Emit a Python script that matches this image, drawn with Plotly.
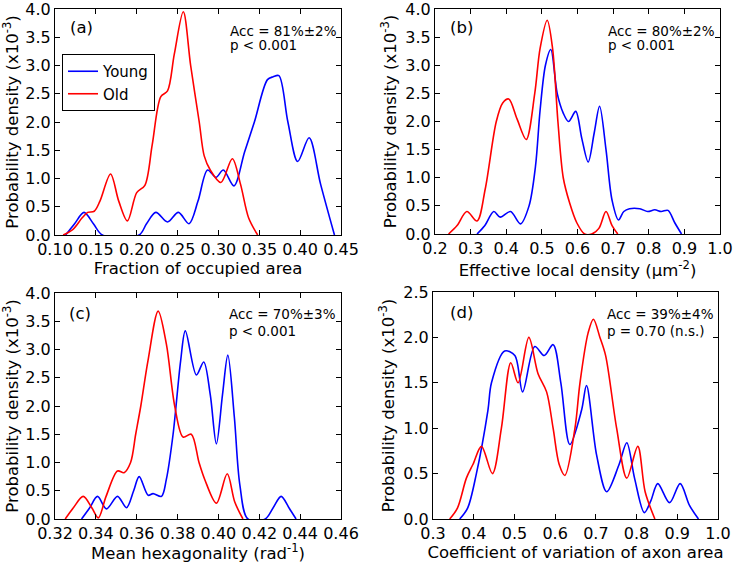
import plotly.graph_objects as go

# ---------------- data ----------------
# (a) Fraction of occupied area
a_young_x = [0.113, 0.124, 0.1355, 0.147, 0.158, 0.203, 0.212, 0.2234, 0.2377, 0.251, 0.264, 0.275,
             0.2867, 0.297, 0.306, 0.319, 0.332, 0.344, 0.36, 0.367, 0.374, 0.385, 0.397, 0.411, 0.425, 0.442]
a_young_y = [0, 0.2, 0.4, 0.2, 0, 0, 0.2, 0.4, 0.23, 0.4, 0.2, 0.6,
             1.15, 1.02, 1.15, 0.87, 1.47, 2.0, 2.75, 2.8, 2.82, 2.0, 1.3, 1.72, 0.9, 0]
a_old_x = [0.11, 0.122, 0.133, 0.14, 0.148, 0.155, 0.168, 0.178, 0.1886, 0.2, 0.21, 0.219, 0.2295,
           0.2377, 0.246, 0.257, 0.266, 0.2765, 0.2826, 0.29, 0.303, 0.317, 0.327, 0.337, 0.348]
a_old_y = [0, 0.1, 0.3, 0.4, 0.42, 0.6, 1.08, 0.6, 0.25, 0.75, 0.88, 1.6, 2.45,
           2.55, 3.2, 3.95, 3.0, 2.0, 1.4, 1.15, 0.93, 1.35, 0.9, 0.3, 0]

# (b) Effective local density
b_young_x = [0.318, 0.34, 0.365, 0.383, 0.412, 0.44, 0.464, 0.482, 0.495, 0.51, 0.525, 0.543, 0.56,
             0.575, 0.595, 0.612, 0.63, 0.647, 0.662, 0.68, 0.697, 0.715, 0.73, 0.746, 0.775, 0.797,
             0.817, 0.835, 0.854, 0.873, 0.892]
b_young_y = [0, 0.15, 0.4, 0.3, 0.4, 0.18, 0.5, 1.2, 2.2, 3.0, 3.28, 2.5, 2.15,
             2.0, 2.18, 1.7, 1.28, 1.8, 2.27, 1.5, 0.6, 0.25, 0.4, 0.45, 0.45, 0.4,
             0.43, 0.4, 0.42, 0.2, 0]
b_old_x = [0.238, 0.262, 0.2894, 0.318, 0.341, 0.372, 0.39, 0.407, 0.43, 0.456, 0.48, 0.495, 0.515,
           0.53, 0.545, 0.56, 0.578, 0.598, 0.62, 0.64, 0.66, 0.68, 0.697, 0.713]
b_old_y = [0, 0.15, 0.4, 0.23, 0.8, 2.0, 2.33, 2.4, 2.05, 1.68, 2.5, 3.3, 3.8,
           3.3, 2.0, 1.0, 0.55, 0.2, 0.0, 0, 0.1, 0.4, 0.15, 0]

# (c) Mean hexagonality
c_young_x = [0.333, 0.337, 0.3408, 0.3452, 0.3506, 0.355, 0.3585, 0.3612, 0.3656, 0.368, 0.3721,
             0.3745, 0.3778, 0.3815, 0.3838, 0.3892, 0.3928, 0.396, 0.399, 0.402, 0.4046, 0.4078,
             0.4105, 0.4144, 0.4229, 0.4268, 0.4307, 0.4345, 0.438]
c_young_y = [0, 0.2, 0.4, 0.18, 0.4, 0.2, 0.5, 0.75, 0.42, 0.45, 0.4,
             0.7, 1.5, 2.8, 3.33, 2.55, 2.78, 2.2, 1.33, 2.2, 2.9, 1.8,
             0.6, 0, 0, 0.2, 0.4, 0.2, 0]
c_old_x = [0.325, 0.329, 0.3338, 0.338, 0.3412, 0.345, 0.3506, 0.3538, 0.357, 0.3595, 0.362, 0.3655,
           0.3705, 0.3745, 0.3786, 0.3827, 0.3867, 0.3905, 0.3933, 0.399, 0.4043, 0.408, 0.412]
c_old_y = [0, 0.2, 0.4, 0.2, 0.02, 0.4, 0.85, 0.82, 1.0, 1.5, 2.0, 2.8,
           3.68, 3.1, 2.0, 1.45, 1.5, 1.0, 0.7, 0.28, 0.8, 0.3, 0]

# (d) Coefficient of variation of axon area
d_young_x = [0.3656, 0.385, 0.4066, 0.435, 0.4436, 0.476, 0.501, 0.52, 0.55, 0.5732, 0.595, 0.614,
             0.636, 0.665, 0.677, 0.702, 0.7266, 0.757, 0.776, 0.795, 0.819, 0.835, 0.852, 0.881,
             0.907, 0.93, 0.952]
d_young_y = [0, 0.12, 0.5, 1.2, 1.5, 1.85, 1.8, 1.4, 1.9, 1.8, 1.92, 1.5,
             0.82, 1.2, 1.47, 0.7, 0.3, 0.6, 0.84, 0.45, 0.07, 0.2, 0.39, 0.18,
             0.39, 0.15, 0]
d_old_x = [0.341, 0.36, 0.382, 0.398, 0.419, 0.446, 0.468, 0.491, 0.509, 0.5354, 0.558, 0.579, 0.595,
           0.61, 0.624, 0.6487, 0.661, 0.681, 0.694, 0.71, 0.724, 0.751, 0.776, 0.803, 0.821, 0.845]
d_old_y = [0, 0.12, 0.45, 0.6, 0.8, 0.5, 1.0, 1.72, 1.5, 2.0, 1.6, 1.4, 1.0,
           0.6, 0.48, 1.0, 1.5, 2.05, 2.2, 2.0, 1.8, 1.0, 0.45, 0.8, 0.3, 0]

panel_labels = ["(a)", "(b)", "(c)", "(d)"]
acc_texts = ["Acc = 81%±2%", "Acc = 80%±2%", "Acc = 70%±3%", "Acc = 39%±4%"]
p_texts = ["p < 0.001", "p < 0.001", "p < 0.001", "p = 0.70 (n.s.)"]
x_titles = ["Fraction of occupied area",
            "Effective local density (μm<sup>-2</sup>)",
            "Mean hexagonality (rad<sup>-1</sup>)",
            "Coefficient of variation of axon area"]
y_title = "Probability density (x10<sup>-3</sup>)"
x_ranges = [[0.10, 0.45], [0.2, 1.0], [0.32, 0.46], [0.3, 1.0]]
x_dticks = [0.05, 0.1, 0.02, 0.1]
x_formats = [".2f", ".1f", ".2f", ".1f"]
y_ranges = [[0, 4.0], [0, 4.0], [0, 4.0], [0, 2.5]]
series_names = ["Young", "Old"]

# ---------------- layout geometry (pixels) ----------------
W, H = 737, 563
boxes = [  # (left, right, top, bottom) in px
    (55, 341, 9, 235),
    (435, 720, 9, 234),
    (55, 341, 293, 519),
    (433, 718, 292, 519),
]
label_pos = [(68, 27), (448, 27), (67, 313), (448, 312)]
acc_pos = [(228, 31, 45), (606, 31, 45), (227, 314, 331), (605, 314, 331)]

BLUE = "#0000ff"
RED = "#ff0000"
FONT = "DejaVu Sans"

fig = go.Figure()
data = [
    (a_young_x, a_young_y, a_old_x, a_old_y),
    (b_young_x, b_young_y, b_old_x, b_old_y),
    (c_young_x, c_young_y, c_old_x, c_old_y),
    (d_young_x, d_young_y, d_old_x, d_old_y),
]

annotations = []
for i, (yx, yy, ox, oy) in enumerate(data):
    xa = "x" if i == 0 else f"x{i+1}"
    ya = "y" if i == 0 else f"y{i+1}"
    fig.add_trace(go.Scatter(x=yx, y=yy, mode="lines", name=series_names[0],
                             line=dict(color=BLUE, width=1.6, shape="spline", smoothing=0.9),
                             xaxis=xa, yaxis=ya, showlegend=(i == 0)))
    fig.add_trace(go.Scatter(x=ox, y=oy, mode="lines", name=series_names[1],
                             line=dict(color=RED, width=1.6, shape="spline", smoothing=0.9),
                             xaxis=xa, yaxis=ya, showlegend=(i == 0)))
    l, r, t, b = boxes[i]
    axis_common = dict(showline=True, linecolor="black", linewidth=1.2, mirror="ticks",
                       ticks="inside", ticklen=5, tickcolor="black", tickwidth=1,
                       showgrid=False, zeroline=False, automargin=False,
                       ticklabeloverflow="allow",
                       tickfont=dict(family=FONT, size=16, color="black"))
    xkey = "xaxis" if i == 0 else f"xaxis{i+1}"
    ykey = "yaxis" if i == 0 else f"yaxis{i+1}"
    fig.update_layout(**{
        xkey: dict(domain=[l / W, r / W], anchor=ya, range=x_ranges[i],
                   dtick=x_dticks[i], tick0=x_ranges[i][0], tickformat=x_formats[i],
                   title=dict(text=x_titles[i], font=dict(family=FONT, size=16.5, color="black"),
                              standoff=4),
                   **axis_common),
        ykey: dict(domain=[1 - b / H, 1 - t / H], anchor=xa, range=y_ranges[i],
                   dtick=0.5, tick0=0, tickformat=".1f",
                   title=dict(text=y_title, font=dict(family=FONT, size=16.5, color="black"),
                              standoff=4),
                   **axis_common),
    })
    lx, ly = label_pos[i]
    annotations.append(dict(x=lx / W, y=1 - ly / H, xref="paper", yref="paper",
                            text=panel_labels[i], showarrow=False, xanchor="left",
                            yanchor="middle", font=dict(family=FONT, size=16.5, color="black")))
    ax_, ay1, ay2 = acc_pos[i]
    annotations.append(dict(x=ax_ / W, y=1 - ay1 / H, xref="paper", yref="paper",
                            text=acc_texts[i], showarrow=False, xanchor="left",
                            yanchor="middle", font=dict(family=FONT, size=13.5, color="black")))
    annotations.append(dict(x=ax_ / W, y=1 - ay2 / H, xref="paper", yref="paper",
                            text=p_texts[i], showarrow=False, xanchor="left",
                            yanchor="middle", font=dict(family=FONT, size=13.5, color="black")))

fig.update_layout(
    width=W, height=H,
    margin=dict(l=0, r=0, t=0, b=0),
    paper_bgcolor="white", plot_bgcolor="white",
    font=dict(family=FONT, size=16, color="black"),
    annotations=annotations,
    legend=dict(x=62 / W, y=1 - 54 / H, xanchor="left", yanchor="top",
                bordercolor="black", borderwidth=1, bgcolor="white",
                font=dict(family=FONT, size=15, color="black"),
                tracegroupgap=0, itemwidth=30),
    showlegend=True,
)

fig.write_html("out.html", config={"displayModeBar": False},
               post_script="document.body.style.margin='0';document.body.style.overflow='hidden';")
